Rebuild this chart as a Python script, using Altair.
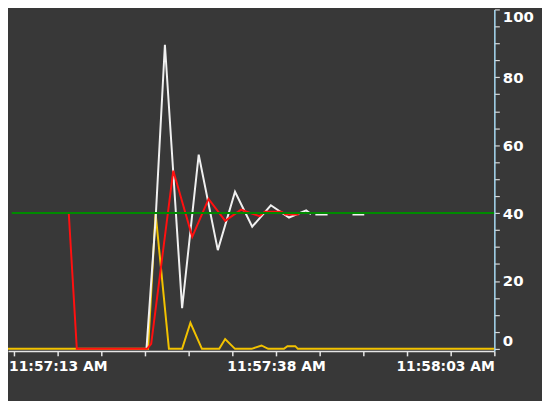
import json
import altair as alt
import pandas as pd

# ---- data (time = seconds after 11:57:00, value in %) ----
red_t = [14.26, 15.18, 23.23, 23.7, 26.23, 28.4, 30.27, 32.17, 34.0, 36.1, 36.7, 38.6, 39.1, 40.6]
red_v = [40, 0, 0, 1.5, 52.5, 33.0, 44.2, 37.7, 41.0, 39.1, 40.4, 40.4, 39.6, 39.6]

white_t = [23.16, 24.2, 25.27, 27.24, 29.14, 31.33, 33.3, 35.27, 37.4, 39.48, 41.45, 42.0,
           42.5, 43.9, 46.75, 48.1]
white_v = [0, 38, 89.6, 12, 57.2, 29.1, 46.3, 36, 42.3, 38.7, 40.8, 39.7,
           39.6, 39.6, 39.6, 39.6]
white_seg = [0] * 12 + [1, 1] + [2, 2]

yellow_t = [7.3, 23.34, 24.2, 25.73, 27.24, 28.19, 29.51, 31.49, 32.17, 33.3,
            35.2, 36.33, 37.1, 38.9, 39.3, 40.2, 40.5, 63]
yellow_v = [0, 0, 40, 0, 0, 7.7, 0, 0, 2.9, 0,
            0, 1.0, 0, 0, 0.8, 0.8, 0, 0]

green_t = [7.73, 63]
green_v = [40, 40]

x_tick_secs = list(range(8, 64, 5))
x_labels = ["11:57:13 AM", "11:57:38 AM", "11:58:03 AM"]
y_ticks = list(range(0, 101, 5))
y_label_step = 20

x_start, x_end = 7.3, 63


def split(t):
    ms_total = 57 * 60 * 1000 + int(round(t * 1000))
    m = ms_total // 60000
    rest = ms_total % 60000
    return m, rest // 1000, rest % 1000


def iso(t):
    m, s, ms = split(t)
    return f"2024-01-01T11:{m:02d}:{s:02d}.{ms:03d}"


def dt(t):
    m, s, ms = split(t)
    return alt.DateTime(year=2024, month=1, date=1, hours=11, minutes=m, seconds=s, milliseconds=ms)


def frame(ts, vs, segs=None):
    return pd.DataFrame({"t": [iso(t) for t in ts], "v": vs,
                         "seg": segs if segs is not None else [0] * len(ts)})


FONT = "DejaVu Sans"

x_enc = alt.X(
    "t:T",
    scale=alt.Scale(domain=[dt(x_start), dt(x_end)]),
    axis=alt.Axis(
        values=[dt(s) for s in x_tick_secs],
        format="%I:%M:%S %p",
        labelExpr=f"indexof({json.dumps(x_labels)}, datum.label) >= 0 ? datum.label : ''",
        labelFlush=True,
        labelOverlap=False,
        labelFont=FONT, labelFontWeight="bold", labelFontSize=14, labelColor="#ffffff",
        labelPadding=4,
        tickSize=5, tickWidth=1.5, tickColor="#e6e6e6",
        domainColor="#e6e6e6", domainWidth=1.5,
        grid=False, title=None,
    ),
)

y_enc = alt.Y(
    "v:Q",
    scale=alt.Scale(domain=[-0.6, 100], nice=False, zero=False),
    axis=alt.Axis(
        orient="right",
        values=y_ticks,
        labelExpr=f"datum.value % {y_label_step} === 0 ? datum.label : ''",
        labelFlush=4,
        labelOverlap=False,
        labelFont=FONT, labelFontWeight="bold", labelFontSize=15, labelColor="#ffffff",
        labelPadding=3,
        tickSize=5, tickWidth=1.2, tickColor="#d8d8d8",
        domainColor="#a9dcf5", domainWidth=1.5,
        grid=False, title=None,
    ),
)


def line(df, color, width=2):
    return alt.Chart(df).mark_line(color=color, strokeWidth=width, clip=True).encode(
        x=x_enc, y=y_enc, detail="seg:N"
    )


chart = alt.layer(
    line(frame(yellow_t, yellow_v), "#f2c200"),
    line(frame(white_t, white_v, white_seg), "#f0f0f0"),
    line(frame(red_t, red_v), "#ff1010"),
    line(frame(green_t, green_v), "#008a00"),
).properties(
    width=490,
    height=344,
    padding={"left": 0, "top": 0, "right": 48, "bottom": 49},
    autosize=alt.AutoSizeParams(type="none"),
    background="#383838",
).configure_view(fill="#383838", strokeWidth=0)

chart.save("out.html", embed_options={"renderer": "svg", "actions": False})
